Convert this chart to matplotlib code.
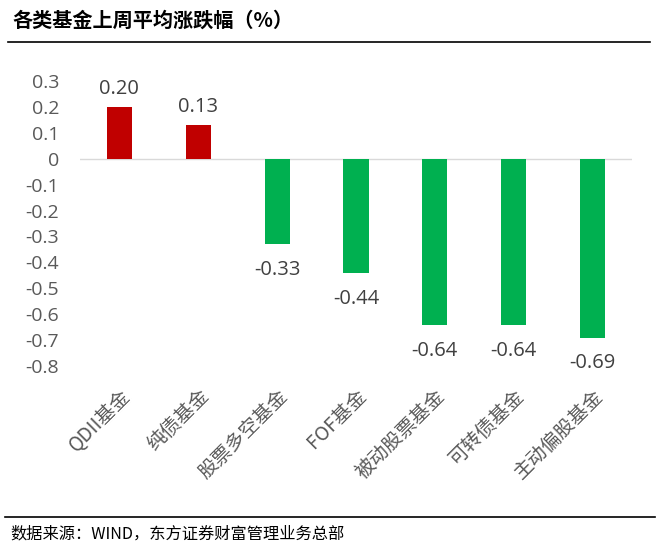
import matplotlib
matplotlib.use("Agg")
from matplotlib import pyplot as plt
from matplotlib.transforms import ScaledTranslation

plt.rcParams['font.family'] = ['Noto Sans CJK SC', 'DejaVu Sans']

# fund categories and their average weekly change (%)
categories = ['QDII基金', '纯债基金', '股票多空基金', 'FOF基金',
              '被动股票基金', '可转债基金', '主动偏股基金']
changes = [0.20, 0.13, -0.33, -0.44, -0.64, -0.64, -0.69]
y_ticks = [0.3, 0.2, 0.1, 0, -0.1, -0.2, -0.3, -0.4, -0.5, -0.6, -0.7, -0.8]

title = '各类基金上周平均涨跌幅（%）'
source = '数据来源：WIND，东方证券财富管理业务总部'

fig = plt.figure(figsize=(6.58, 5.51), dpi=100)
ax = fig.add_axes([80 / 658, 1 - 366 / 551, 552 / 658, 285 / 551])

colors = ['#C00000' if v > 0 else '#00B050' for v in changes]
x = range(len(categories))
ax.bar(x, changes, width=0.32, color=colors, zorder=2)

# value labels above / below bars
for i, v in enumerate(changes):
    if v >= 0:
        ax.annotate('%.2f' % v, (i, v), xytext=(0, 6), textcoords='offset points',
                    ha='center', va='bottom', fontsize=14.5, color='#404040',
                    family=['Open Sans', 'DejaVu Sans'])
    else:
        ax.annotate('%.2f' % v, (i, v), xytext=(0, -11.5), textcoords='offset points',
                    ha='center', va='top', fontsize=14.5, color='#404040',
                    family=['Open Sans', 'DejaVu Sans'])

ax.axhline(0, color='#D9D9D9', lw=1, zorder=1)
ax.set_xlim(-0.5, len(categories) - 0.5)
ax.set_ylim(-0.8, 0.3)
ax.set_yticks(y_ticks)
ax.set_yticklabels(['0' if t == 0 else ('%.1f' % t) for t in y_ticks],
                   fontsize=14, color='#595959', family=['Open Sans', 'DejaVu Sans'])
ax.set_xticks(list(x))
ax.set_xticklabels(categories, rotation=45, ha='right', rotation_mode='anchor',
                   fontsize=14, color='#595959')
# nudge category labels a little to the left
shift = ScaledTranslation(-5 / 72, 0, fig.dpi_scale_trans)
for lab in ax.get_xticklabels():
    lab.set_transform(lab.get_transform() + shift)
ax.tick_params(axis='both', length=0)
ax.tick_params(axis='y', pad=15)
ax.tick_params(axis='x', pad=14)
for s in ax.spines.values():
    s.set_visible(False)

# header, rules and source note
fig.text(12 / 658, 1 - 20 / 551, title, fontsize=14.5, fontweight='bold',
         va='center', ha='left', color='black')
fig.add_artist(plt.Line2D([8 / 658, 650 / 658], [1 - 42 / 551, 1 - 42 / 551],
                          color='black', lw=1.2))
fig.add_artist(plt.Line2D([5 / 658, 655 / 658], [1 - 517 / 551, 1 - 517 / 551],
                          color='black', lw=1.2))
fig.text(10 / 658, 1 - 534 / 551, source, fontsize=11.7, va='center', ha='left',
         color='black')

fig.savefig('out.png', dpi=100)
